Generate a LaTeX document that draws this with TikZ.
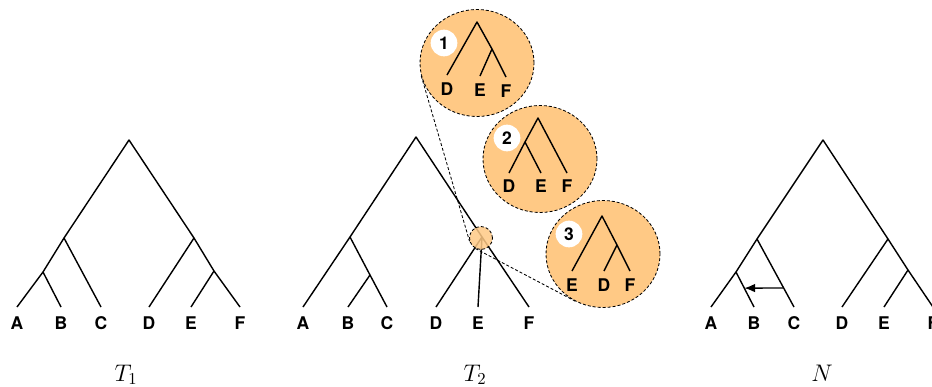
\documentclass[tikz,border=0pt]{standalone}
\usepackage{fontspec}
\setsansfont{TeX Gyre Heros}
\usetikzlibrary{arrows.meta,positioning,calc,shapes.geometric}
\definecolor{zoomorange}{HTML}{FFC985}

\begin{document}
\begin{tikzpicture}[x=0.6pt,y=-0.6pt,
      tree/.style={line width=0.85pt,line join=round},
      lbl/.style={font=\sffamily\bfseries\fontsize{10.5}{12}\selectfont,inner sep=1pt},
      zoomdash/.style={dash pattern=on 1.8pt off 1.2pt,line width=0.5pt},
      zoomc/.style={ellipse,draw,zoomdash,fill=zoomorange,inner sep=0pt,
        minimum width=68.4pt,minimum height=64.2pt},
      badge/.style={circle,fill=white,inner sep=0pt,minimum size=16pt,
        font=\sffamily\bfseries\fontsize{10.5}{12}\selectfont},
      capt/.style={font=\fontsize{14.5}{16}\selectfont,anchor=base},
      arr/.style={-{Latex[length=6.5pt,width=5.2pt]},line width=0.85pt}]
    \useasboundingbox (0,0) rectangle (932,386);

    % T1
    \coordinate (t1r) at (129,140);
    \coordinate (t1abc) at (64,238);
    \coordinate (t1ab) at (43,272);
    \coordinate (t1def) at (194,238);
    \coordinate (t1ef) at (214,271);
    \coordinate (t1A) at (17,307);
    \coordinate (t1B) at (61,307);
    \coordinate (t1C) at (101,307);
    \coordinate (t1D) at (149,307);
    \coordinate (t1E) at (191,307);
    \coordinate (t1F) at (240,307);
    \draw[tree] (t1A) -- (t1ab) -- (t1abc) -- (t1r) -- (t1def) -- (t1ef) -- (t1F);
    \draw[tree] (t1ab) -- (t1B);
    \draw[tree] (t1abc) -- (t1C);
    \draw[tree] (t1def) -- (t1D);
    \draw[tree] (t1ef) -- (t1E);
    \foreach \l in {A,B,C,D,E,F}
      \node[lbl,below=4.4pt of t1\l] (t1l\l) {\l};
    \node[capt] (capt1) at (126,381) {$T_1$};

    % T2
    \coordinate (t2r) at (416,137);
    \coordinate (t2abc) at (350,237);
    \coordinate (t2bc) at (370,275);
    \coordinate (t2def) at (482,237);
    \coordinate (t2A) at (303,307);
    \coordinate (t2B) at (348,307);
    \coordinate (t2C) at (387,307);
    \coordinate (t2D) at (436,307);
    \coordinate (t2E) at (478,307);
    \coordinate (t2F) at (529,307);
    \draw[tree] (t2A) -- (t2abc) -- (t2r) -- (t2def) -- (t2F);
    \draw[tree] (t2abc) -- (t2bc) -- (t2C);
    \draw[tree] (t2bc) -- (t2B);
    \draw[tree] (t2def) -- (t2D);
    \draw[tree] (t2def) -- (t2E);
    \foreach \l in {A,B,C,D,E,F}
      \node[lbl,below=4.4pt of t2\l] (t2l\l) {\l};
    \node[capt] (capt2) at (475,381) {$T_2$};
    \node[ellipse,draw,zoomdash,fill=zoomorange,fill opacity=0.85,
      minimum size=13.8pt,inner sep=0pt] (sc) at (481,238) {};

    % resolutions of the polytomy
    \node[zoomc] (c1) at (477,63) {};
    \node[zoomc] (c2) at (540,159) {};
    \node[zoomc] (c3) at (603,254) {};
    \draw[zoomdash] (c1.193) -- (sc.196);
    \draw[zoomdash] (sc.242) -- (c3.240);

    \coordinate (z1r) at (477,22);
    \coordinate (z1ef) at (492,49);
    \coordinate (z1D) at (447,75);
    \coordinate (z1E) at (480,76);
    \coordinate (z1F) at (506,77);
    \draw[tree] (z1D) -- (z1r) -- (z1ef) -- (z1F);
    \draw[tree] (z1ef) -- (z1E);
    \foreach \l in {D,E,F}
      \node[lbl,below=3.6pt of z1\l] (z1l\l) {\l};
    \node[badge] (b1) at (444,43) {1};

    \coordinate (z2r) at (538,118);
    \coordinate (z2de) at (525,142);
    \coordinate (z2D) at (509,173);
    \coordinate (z2E) at (541,173);
    \coordinate (z2F) at (567,173);
    \draw[tree] (z2D) -- (z2de) -- (z2r) -- (z2F);
    \draw[tree] (z2de) -- (z2E);
    \foreach \l in {D,E,F}
      \node[lbl,below=2.6pt of z2\l] (z2l\l) {\l};
    \node[badge] (b2) at (507,138) {2};

    \coordinate (z3r) at (602,216);
    \coordinate (z3df) at (617,245);
    \coordinate (z3E) at (572,271);
    \coordinate (z3D) at (604,271);
    \coordinate (z3F) at (630,271);
    \draw[tree] (z3E) -- (z3r) -- (z3df) -- (z3F);
    \draw[tree] (z3df) -- (z3D);
    \foreach \l in {E,D,F}
      \node[lbl,below=3.6pt of z3\l] (z3l\l) {\l};
    \node[badge] (b3) at (569,234) {3};

    % N
    \coordinate (nr) at (823,140);
    \coordinate (nabc) at (757,239);
    \coordinate (nab) at (736,272);
    \coordinate (ndef) at (888,239);
    \coordinate (nef) at (908,270);
    \coordinate (nA) at (711,307);
    \coordinate (nB) at (754,307);
    \coordinate (nC) at (794,307);
    \coordinate (nD) at (842,307);
    \coordinate (nE) at (884,307);
    \coordinate (nF) at (933,307);
    \draw[tree] (nA) -- (nab) -- (nabc) -- (nr) -- (ndef) -- (nef) -- (nF);
    \draw[tree] (nab) -- (nB);
    \draw[tree] (nabc) -- (nC);
    \draw[tree] (ndef) -- (nD);
    \draw[tree] (nef) -- (nE);
    \foreach \l in {A,B,C,D,E,F}
      \node[lbl,below=4.4pt of n\l] (nl\l) {\l};
    \coordinate (hsrc) at ($(nabc)!0.72!(nC)$);
    \coordinate (htgt) at ($(nab)!0.46!(nB)$);
    \draw[arr] (hsrc) -- (htgt);
    \node[capt] (captn) at (822,381) {$N$};
  \end{tikzpicture}
\end{document}
